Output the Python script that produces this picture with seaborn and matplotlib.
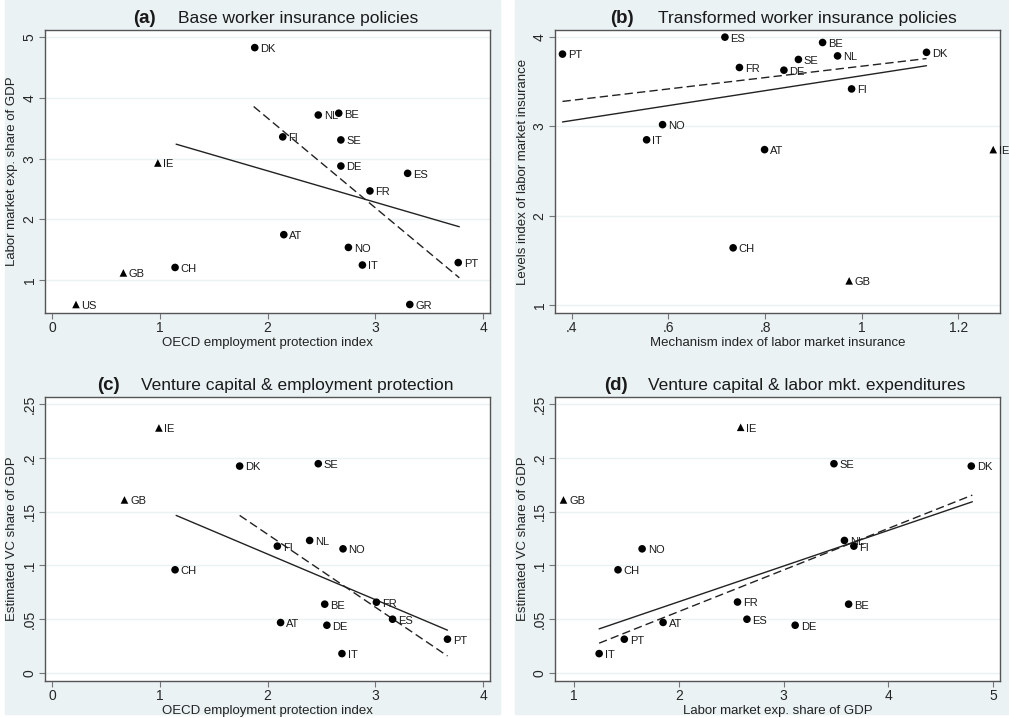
import numpy as np
import pandas as pd
import matplotlib
matplotlib.use('Agg')
import matplotlib.pyplot as plt
import seaborn as sns
from matplotlib.patches import Rectangle

# ---- Panel (a): EPL index vs labor market expenditure
a_names = ['DK', 'NL', 'BE', 'FI', 'SE', 'IE', 'DE', 'ES', 'FR', 'AT', 'NO', 'IT', 'PT', 'CH', 'GB', 'US', 'GR']
a_x = [1.88, 2.47, 2.66, 2.14, 2.68, 0.98, 2.68, 3.30, 2.95, 2.15, 2.75, 2.88, 3.77, 1.14, 0.66, 0.22, 3.32]
a_y = [4.83, 3.72, 3.75, 3.36, 3.31, 2.93, 2.88, 2.76, 2.47, 1.75, 1.54, 1.25, 1.29, 1.21, 1.12, 0.60, 0.60]
a_tri = ['IE', 'GB', 'US']
a_fit_x = [1.15, 3.78]
a_fit_solid = [3.24, 1.88]
a_dash_x = [1.87, 3.78]
a_fit_dash = [3.86, 1.04]

# ---- Panel (b): mechanism index vs levels index
b_names = ['PT', 'ES', 'BE', 'NL', 'DK', 'SE', 'FR', 'DE', 'FI', 'NO', 'IT', 'AT', 'IE', 'CH', 'GB']
b_x = [0.381, 0.717, 0.919, 0.950, 1.134, 0.869, 0.747, 0.839, 0.979, 0.588, 0.555, 0.799, 1.272, 0.734, 0.974]
b_y = [3.81, 4.00, 3.94, 3.79, 3.83, 3.75, 3.66, 3.63, 3.42, 3.02, 2.85, 2.74, 2.74, 1.64, 1.27]
b_tri = ['IE', 'GB']
b_fit_x = [0.381, 1.134]
b_fit_solid = [3.05, 3.68]
b_dash_x = [0.381, 1.134]
b_fit_dash = [3.28, 3.76]

# ---- Panel (c): EPL index vs VC share of GDP
c_names = ['IE', 'DK', 'SE', 'GB', 'NL', 'FI', 'NO', 'CH', 'FR', 'BE', 'ES', 'AT', 'DE', 'PT', 'IT']
c_x = [0.99, 1.74, 2.47, 0.67, 2.39, 2.09, 2.70, 1.14, 3.01, 2.53, 3.16, 2.12, 2.55, 3.67, 2.69]
c_y = [0.228, 0.1925, 0.1947, 0.161, 0.1233, 0.118, 0.1155, 0.096, 0.0658, 0.064, 0.050, 0.0469, 0.0444, 0.0314, 0.018]
c_tri = ['IE', 'GB']
c_fit_x = [1.15, 3.67]
c_fit_solid = [0.1466, 0.0398]
c_dash_x = [1.74, 3.67]
c_fit_dash = [0.1466, 0.0158]

# ---- Panel (d): labor market expenditure vs VC share of GDP
d_names = ['IE', 'SE', 'DK', 'GB', 'NL', 'FI', 'NO', 'CH', 'FR', 'BE', 'ES', 'AT', 'DE', 'PT', 'IT']
d_x = [2.59, 3.48, 4.79, 0.90, 3.58, 3.67, 1.65, 1.42, 2.56, 3.62, 2.65, 1.85, 3.11, 1.48, 1.24]
d_y = [0.2286, 0.1947, 0.1925, 0.161, 0.1233, 0.118, 0.1155, 0.096, 0.066, 0.064, 0.050, 0.047, 0.0444, 0.0314, 0.018]
d_tri = ['IE', 'GB']
d_fit_x = [1.24, 4.80]
d_fit_solid = [0.041, 0.1593]
d_dash_x = [1.24, 4.80]
d_fit_dash = [0.0277, 0.1655]

bg = '#eaf2f3'

sns.set_style('white')
plt.rcParams['font.family'] = ['Liberation Sans', 'DejaVu Sans']

fig = plt.figure(figsize=(10.09, 7.18), dpi=100)
W, H = 1009, 718

# light background behind the two columns of graphs
for x0, x1 in [(5, 500), (515, 1009)]:
    fig.patches.append(Rectangle((x0 / W, 1 - 714 / H), (x1 - x0) / W, 714 / H,
                                 transform=fig.transFigure, color=bg, zorder=-1))


def make_axes(left, top, right, bottom):
    return fig.add_axes([left / W, 1 - bottom / H, (right - left) / W, (bottom - top) / H])


def draw_panel(ax, names, xs, ys, tri, fx, fy, dx, dy, letter, title, tpos, xlab, ylab):
    df = pd.DataFrame({'name': names, 'x': xs, 'y': ys})
    df['grp'] = np.where(df['name'].isin(tri), 'tri', 'dot')
    sns.scatterplot(data=df, x='x', y='y', style='grp', markers={'dot': 'o', 'tri': '^'},
                    color='black', s=30, edgecolor='black', linewidth=0, legend=False,
                    ax=ax, zorder=3, clip_on=False)
    for _, r in df.iterrows():
        ax.annotate(r['name'], (r['x'], r['y']), xytext=(4, -1), textcoords='offset points',
                    va='center', ha='left', fontsize=8, color='#1a1a1a', annotation_clip=False)
    sns.lineplot(x=fx, y=fy, color='#222222', linewidth=1.0, ax=ax)
    sns.lineplot(x=dx, y=dy, color='#222222', linewidth=1.0, linestyle=(0, (6, 3)), ax=ax)
    ax.text(tpos[0], 1.026, letter, transform=ax.transAxes, fontsize=13.5, fontweight='bold',
            va='baseline', ha='left', color='#1a1a1a')
    ax.text(tpos[1], 1.026, title, transform=ax.transAxes, fontsize=12.5,
            va='baseline', ha='left', color='#1a1a1a')
    ax.set_xlabel(xlab, fontsize=9.5, labelpad=1, color='#222222')
    ax.set_ylabel(ylab, fontsize=9.5, labelpad=3, color='#222222')
    ax.grid(axis='y', color=bg, linewidth=1.0)
    ax.set_axisbelow(True)
    for s in ax.spines.values():
        s.set_color('#555555')
        s.set_linewidth(1.0)
    ax.tick_params(axis='both', direction='out', length=4, width=0.8, color='#777777',
                   labelsize=10, pad=2, bottom=True, left=True)


# (a)
ax = make_axes(45, 30, 490, 313)
draw_panel(ax, a_names, a_x, a_y, a_tri, a_fit_x, a_fit_solid, a_dash_x, a_fit_dash,
           '(a)', 'Base worker insurance policies', (0.198, 0.299),
           'OECD employment protection index', 'Labor market exp. share of GDP')
ax.set_xlim(-0.068, 4.065)
ax.set_ylim(0.46, 5.12)
ax.set_xticks([0, 1, 2, 3, 4])
ax.set_yticks([1, 2, 3, 4, 5])
ax.set_xticklabels(['0', '1', '2', '3', '4'])
ax.set_yticklabels(['1', '2', '3', '4', '5'], rotation=90, va='center')

# (b)
ax = make_axes(555, 30, 1000, 313)
draw_panel(ax, b_names, b_x, b_y, b_tri, b_fit_x, b_fit_solid, b_dash_x, b_fit_dash,
           '(b)', 'Transformed worker insurance policies', (0.124, 0.231),
           'Mechanism index of labor market insurance', 'Levels index of labor market insurance')
ax.set_xlim(0.3655, 1.286)
ax.set_ylim(0.91, 4.08)
ax.set_xticks([0.4, 0.6, 0.8, 1.0, 1.2])
ax.set_xticklabels(['.4', '.6', '.8', '1', '1.2'])
ax.set_yticks([1, 2, 3, 4])
ax.set_yticklabels(['1', '2', '3', '4'], rotation=90, va='center')

# (c)
ax = make_axes(45, 397, 490, 681)
draw_panel(ax, c_names, c_x, c_y, c_tri, c_fit_x, c_fit_solid, c_dash_x, c_fit_dash,
           '(c)', 'Venture capital & employment protection', (0.117, 0.216),
           'OECD employment protection index', 'Estimated VC share of GDP')
ax.set_xlim(-0.068, 4.065)
ax.set_ylim(-0.0075, 0.2568)
ax.set_xticks([0, 1, 2, 3, 4])
ax.set_xticklabels(['0', '1', '2', '3', '4'])
ax.set_yticks([0, 0.05, 0.1, 0.15, 0.2, 0.25])
ax.set_yticklabels(['0', '.05', '.1', '.15', '.2', '.25'], rotation=90, va='center')

# (d)
ax = make_axes(555, 397, 1000, 681)
draw_panel(ax, d_names, d_x, d_y, d_tri, d_fit_x, d_fit_solid, d_dash_x, d_fit_dash,
           '(d)', 'Venture capital & labor mkt. expenditures', (0.110, 0.209),
           'Labor market exp. share of GDP', 'Estimated VC share of GDP')
ax.set_xlim(0.819, 5.064)
ax.set_ylim(-0.0075, 0.2568)
ax.set_xticks([1, 2, 3, 4, 5])
ax.set_xticklabels(['1', '2', '3', '4', '5'])
ax.set_yticks([0, 0.05, 0.1, 0.15, 0.2, 0.25])
ax.set_yticklabels(['0', '.05', '.1', '.15', '.2', '.25'], rotation=90, va='center')

fig.savefig('out.png', dpi=100, facecolor='white')
